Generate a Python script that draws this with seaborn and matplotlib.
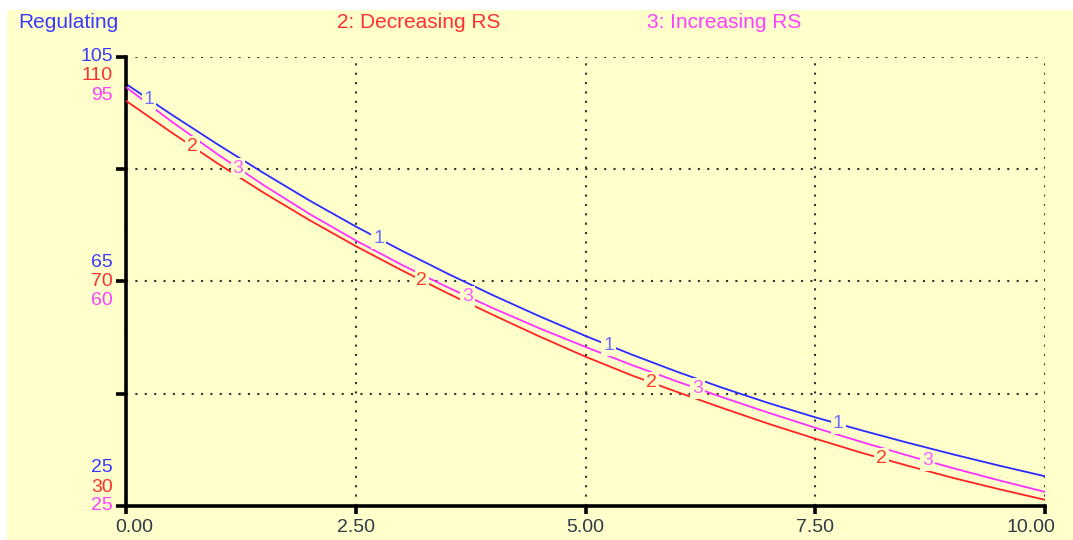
import numpy as np
import matplotlib.pyplot as plt
import seaborn as sns
from matplotlib.patches import Rectangle
from matplotlib.transforms import ScaledTranslation

sns.set_theme(style="white")
plt.rcParams['font.family'] = ['Liberation Sans', 'DejaVu Sans']

# values (each series has its own y scale)
time = [0, 0.5, 1, 1.5, 2, 2.5, 3, 3.5, 4, 4.5, 5,
        5.5, 6, 6.5, 7, 7.5, 8, 8.5, 9, 9.5, 10]
regulating = [100.2, 94.7, 89.4, 84.3, 79.4, 74.8, 70.5, 66.4, 62.5, 58.8, 55.3,
              52.0, 48.9, 46.0, 43.3, 40.8, 38.5, 36.3, 34.2, 32.2, 30.3]
decreasing_rs = [102.2, 96.5, 91.0, 85.8, 80.9, 76.3, 72.0, 67.9, 64.0, 60.2, 56.6,
                 53.3, 50.3, 47.4, 44.6, 42.0, 39.5, 37.2, 35.0, 33.0, 31.1]
increasing_rs = [90.3, 84.9, 79.8, 75.0, 70.5, 66.4, 62.6, 59.1, 55.8, 52.7, 49.8,
                 47.0, 44.4, 41.9, 39.5, 37.2, 35.0, 32.9, 30.9, 29.0, 27.2]

series_names = ['Regulating', '2: Decreasing RS', '3: Increasing RS']
series_limits = [(25, 105), (30, 110), (25, 95)]
line_numbers = ['1', '2', '3']
number_times = [[0.25, 2.75, 5.25, 7.75],
                [0.72, 3.22, 5.72, 8.22],
                [1.22, 3.72, 6.22, 8.72]]
x_ticks = [0, 2.5, 5, 7.5, 10]

line_colors = ['#2b2bff', '#ff2424', '#ff30ff']
number_colors = ['#6f6fff', '#ff3a2a', '#ff5cff']
text_colors = ['#3a3aff', '#ff3030', '#ff40ff']
bg = '#ffffcc'

fig = plt.figure(figsize=(10.73, 5.40), dpi=100)
fig.patch.set_facecolor('white')
fig.patches.append(Rectangle((7 / 1073, 0), 1, 530 / 540, transform=fig.transFigure,
                             facecolor=bg, edgecolor='none', zorder=-5))

ax = fig.add_axes([126 / 1073, 34 / 540, 919 / 1073, 449 / 540])
ax.set_facecolor('none')
axes = [ax, ax.twinx(), ax.twinx()]
data = [regulating, decreasing_rs, increasing_rs]

for a, y, lim, col in zip(axes, data, series_limits, line_colors):
    sns.lineplot(x=time, y=y, ax=a, color=col, linewidth=1.3)
    a.set_xlim(0, 10)
    a.set_ylim(lim)
    a.set_ylabel('')
    if a is not ax:
        a.set_facecolor('none')
        a.set_yticks([])
        for s in a.spines.values():
            s.set_visible(False)

# grid / axes frame
ax.set_yticks(np.linspace(25, 105, 5))
ax.set_xticks(x_ticks)
ax.set_xticklabels([f'{v:.2f}' for v in x_ticks], fontsize=14, color='#2f3a48')
ax.grid(True, linestyle=(0, (1, 3.5)), color='#333333', linewidth=1.5)
ax.set_axisbelow(True)
for side in ['top', 'right']:
    ax.spines[side].set_visible(False)
for side in ['left', 'bottom']:
    ax.spines[side].set_color('black')
    ax.spines[side].set_linewidth(2.6)
ax.tick_params(axis='y', left=True, length=7, width=2.6, color='black', labelleft=False)
ax.tick_params(axis='x', bottom=True, length=6, width=2.6, color='black', pad=3)
labels = ax.get_xticklabels()
labels[0].set_transform(labels[0].get_transform() + ScaledTranslation(8 / 100, 0, fig.dpi_scale_trans))
labels[-1].set_transform(labels[-1].get_transform() + ScaledTranslation(-14 / 100, 0, fig.dpi_scale_trans))

# stacked y scale labels
for i, (a, (lo, hi), col) in enumerate(zip(axes, series_limits, text_colors)):
    for k, v in enumerate([lo, (lo + hi) / 2, hi]):
        ax.annotate(f'{v:g}', xy=(0, v), xycoords=a.get_yaxis_transform(),
                    xytext=(-13, 19 * (2 - i - k)), textcoords='offset pixels',
                    ha='right', va='center', fontsize=14, color=col, annotation_clip=False)

# line numbers on the curves
top = axes[-1]
for a, y, num, ts, col in zip(axes, data, line_numbers, number_times, number_colors):
    for t in ts:
        top.annotate(num, xy=(t, np.interp(t, time, y)), xycoords=a.transData,
                     ha='center', va='center', fontsize=14, color=col, zorder=5,
                     bbox=dict(boxstyle='square,pad=0.1', facecolor=bg, edgecolor='none'))

# series titles along the top
for name, xpos, col in zip(series_names, [18, 337, 647], text_colors):
    fig.text(xpos / 1073, 1 - 23 / 540, name, ha='left', va='center', fontsize=15, color=col)

fig.savefig('out.png', dpi=100, facecolor=fig.get_facecolor())
